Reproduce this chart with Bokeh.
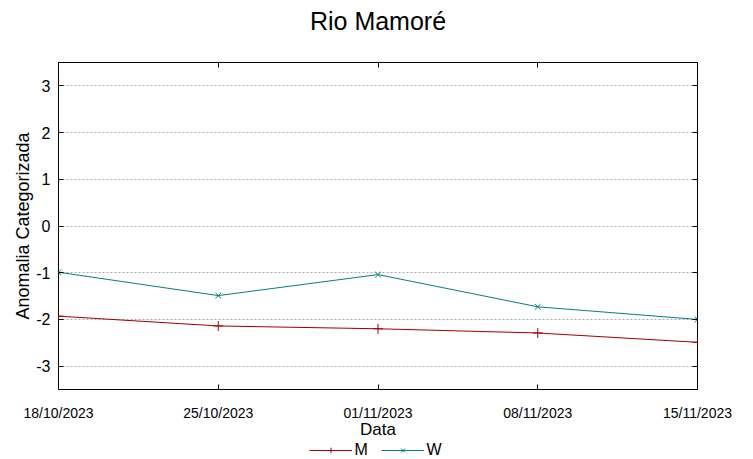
import math
import pandas as pd
from bokeh.plotting import figure
from bokeh.layouts import column
from bokeh.models import (DatetimeAxis, LinearAxis, FixedTicker, DatetimeTickFormatter,
                          Range1d, Legend, LegendItem, Label, Grid)
from bokeh.embed import file_html
from bokeh.resources import INLINE

# ---- data ----
title_text = "Rio Mamoré"
dates = ["2023-10-18", "2023-10-25", "2023-11-01", "2023-11-08", "2023-11-15"]
m_vals = [-1.93, -2.14, -2.20, -2.29, -2.49]
w_vals = [-0.99, -1.49, -1.04, -1.73, -2.00]
series_names = ["M", "W"]
y_ticks = [-3, -2, -1, 0, 1, 2, 3]
y_label = "Anomalia Categorizada"
x_label = "Data"

# ---- style ----
RED = "#a00000"
TEAL = "#008080"
FONT = "Liberation Sans"
Y_MIN, Y_MAX = -3.5, 3.5

x = pd.to_datetime(dates)
tick_ms = [t.value / 1e6 for t in x]

# ---- title strip ----
tf = figure(width=753, height=40, output_backend="svg", toolbar_location=None,
            x_axis_type=None, y_axis_type=None, min_border=0,
            x_range=Range1d(0, 1), y_range=Range1d(0, 1))
tf.outline_line_color = None
tf.add_layout(Label(x=0.5, y=0.5, text=title_text, text_align="center", text_baseline="middle",
                    text_font=FONT, text_font_size="25px", text_color="black"))

# ---- main chart ----
p = figure(width=753, height=401, output_backend="svg", toolbar_location=None,
           x_axis_type=None, y_axis_type=None,
           x_range=Range1d(x[0], x[-1]), y_range=Range1d(Y_MIN, Y_MAX),
           min_border_left=58, min_border_right=56, min_border_top=22, min_border_bottom=52)

p.outline_line_color = "black"
p.outline_line_alpha = 1
p.outline_line_width = 1
p.background_fill_color = "white"
p.border_fill_color = "white"

fmt = DatetimeTickFormatter(days="%d/%m/%Y", months="%d/%m/%Y", years="%d/%m/%Y",
                            hours="%d/%m/%Y", context=None)
xticker = FixedTicker(ticks=tick_ms)
yticker = FixedTicker(ticks=y_ticks)

def inward_ticks(ax):
    ax.major_tick_in = 5
    ax.major_tick_out = 0
    ax.minor_tick_in = 0
    ax.minor_tick_out = 0
    ax.minor_tick_line_color = None
    ax.axis_line_color = None
    ax.major_tick_line_color = "black"

def no_labels(ax):
    ax.major_label_text_font_size = "0px"
    ax.major_label_text_color = None
    ax.major_label_standoff = 0

# bottom axis: inward ticks, dates, axis title
xb = DatetimeAxis(ticker=xticker, formatter=fmt)
inward_ticks(xb)
xb.major_label_standoff = 15
xb.major_label_text_font = FONT
xb.major_label_text_font_size = "14px"
xb.major_label_text_color = "black"
xb.axis_label = x_label
xb.axis_label_standoff = -4
xb.axis_label_text_font = FONT
xb.axis_label_text_font_size = "17px"
xb.axis_label_text_font_style = "normal"
xb.axis_label_text_color = "black"
p.add_layout(xb, "below")

# top mirror ticks
xt = DatetimeAxis(ticker=xticker, formatter=fmt)
inward_ticks(xt)
no_labels(xt)
p.add_layout(xt, "above")

# left axis
yl = LinearAxis(ticker=yticker)
inward_ticks(yl)
yl.major_label_overrides = {v: str(v) for v in y_ticks}
yl.major_label_standoff = 8
yl.major_label_text_font = FONT
yl.major_label_text_font_size = "16px"
yl.major_label_text_color = "black"
yl.axis_label = y_label
yl.axis_label_standoff = 0
yl.axis_label_text_font = FONT
yl.axis_label_text_font_size = "18px"
yl.axis_label_text_font_style = "normal"
yl.axis_label_text_color = "black"
p.add_layout(yl, "left")

# right mirror ticks
yr = LinearAxis(ticker=yticker)
inward_ticks(yr)
no_labels(yr)
p.add_layout(yr, "right")

p.add_layout(Grid(dimension=1, ticker=yticker, grid_line_color="#aaaaaa",
                  grid_line_dash="2 2", grid_line_width=1))

p.line(x, m_vals, line_color=RED, line_width=1)
p.scatter(x, m_vals, marker="cross", size=10, line_color=RED, line_width=1)
p.line(x, w_vals, line_color=TEAL, line_width=1)
p.scatter(x, w_vals, marker="x", size=8, line_color=TEAL, line_width=1)

# neighbouring panel's y label, cut by the image edge
p.add_layout(Label(x=x[-1], y=0, x_offset=52, y_offset=-5, text=y_label, angle=math.pi / 2,
                   text_align="center", text_baseline="middle",
                   text_font=FONT, text_font_size="18px", text_color="black"))

# ---- legend strip under the chart (its series lie outside its own y range) ----
lg = figure(width=753, height=17, output_backend="svg", toolbar_location=None,
            x_axis_type=None, y_axis_type=None, min_border=0,
            x_range=Range1d(x[0], x[-1]), y_range=Range1d(10, 11))
lg.outline_line_color = None
key_m = [lg.line(x, m_vals, line_color=RED, line_width=1),
         lg.scatter(x, m_vals, marker="cross", size=10, line_color=RED, line_width=1)]
key_w = [lg.line(x, w_vals, line_color=TEAL, line_width=1),
         lg.scatter(x, w_vals, marker="x", size=8, line_color=TEAL, line_width=1)]
legend = Legend(items=[LegendItem(label=series_names[0], renderers=key_m),
                       LegendItem(label=series_names[1], renderers=key_w)],
                orientation="horizontal", location="center",
                label_text_font=FONT, label_text_font_size="16px", label_text_color="black",
                glyph_width=43, glyph_height=14, label_height=14,
                padding=0, margin=0, spacing=6, label_standoff=3,
                border_line_color=None, background_fill_alpha=0)
lg.add_layout(legend)

open("out.html", "w").write(file_html(column(tf, p, lg, spacing=0), INLINE))
